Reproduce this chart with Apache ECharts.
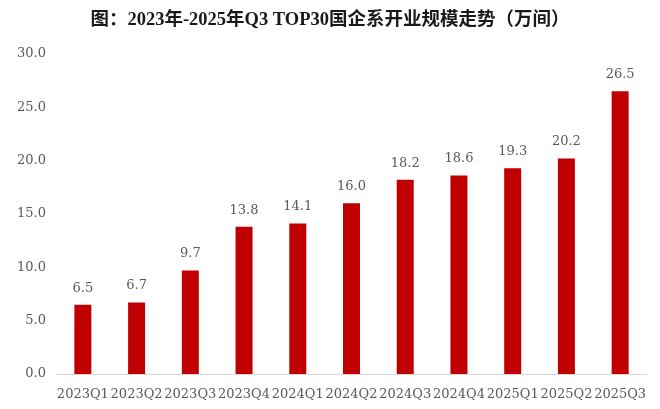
<!DOCTYPE html>
<html><head><meta charset="utf-8">
<script src="https://cdn.jsdelivr.net/npm/echarts@6/dist/echarts.min.js"></script>
<style>html,body{margin:0;padding:0;background:#fff;}#c{width:660px;height:409px;}</style>
</head><body><div id="c"></div>
<script>
const titleText = '图：2023年-2025年Q3 TOP30国企系开业规模走势（万间）';
const categories = ['2023Q1','2023Q2','2023Q3','2023Q4','2024Q1','2024Q2','2024Q3','2024Q4','2025Q1','2025Q2','2025Q3'];
const values = [6.5, 6.7, 9.7, 13.8, 14.1, 16.0, 18.2, 18.6, 19.3, 20.2, 26.5];
const serif = '"DejaVu Serif","Liberation Serif","Noto Sans CJK SC",serif';
const titleFont = '"Liberation Serif","Noto Sans CJK SC",serif';
const chart = echarts.init(document.getElementById('c'));
chart.setOption({
  animation: false,
  title: { text: titleText, left: 'center', top: 6,
    textStyle: { fontFamily: titleFont, fontSize: 18.5, fontWeight: 'bold', color: '#1a1a1a' } },
  grid: { left: 56, right: 13, top: 54, bottom: 35, containLabel: false },
  xAxis: { type: 'category', data: categories,
    axisLine: { lineStyle: { color: '#d9d9d9' } }, axisTick: { show: false },
    axisLabel: { fontFamily: serif, fontSize: 13, color: '#595959', margin: 14, interval: 0 } },
  yAxis: { type: 'value', min: 0, max: 30, interval: 5,
    splitLine: { show: false }, axisLine: { show: false }, axisTick: { show: false },
    axisLabel: { fontFamily: serif, fontSize: 13, color: '#595959', margin: 10,
      formatter: v => v.toFixed(1) } },
  series: [{ type: 'bar', data: values, barWidth: 17,
    itemStyle: { color: '#C00000' },
    label: { show: true, position: 'top', distance: 10, fontFamily: serif, fontSize: 13, color: '#595959',
      formatter: p => p.value.toFixed(1) } }]
});
</script></body></html>
